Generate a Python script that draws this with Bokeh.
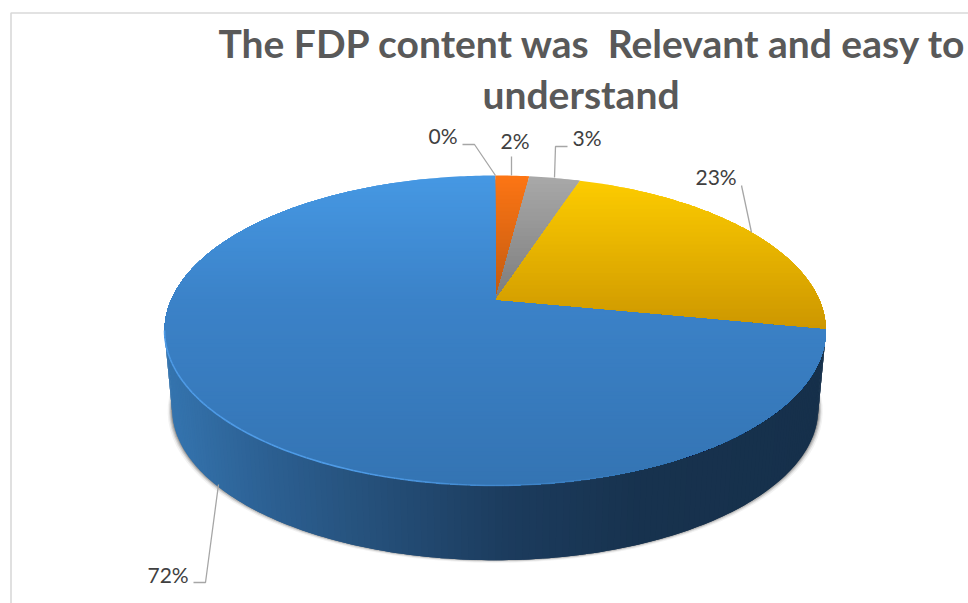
import math
from bokeh.plotting import figure
from bokeh.models import ColumnDataSource, Range1d
from bokeh.core.properties import value
from bokeh.embed import file_html
from bokeh.resources import INLINE

# ---- data ----
title_lines = ["The FDP content was \u00a0Relevant and easy to", "understand"]
values = [0, 2, 3, 23, 72]                 # clockwise from 12 o'clock
value_labels = ["0%", "2%", "3%", "23%", "72%"]

# ---- styles ----
TOP_STOPS = [
    None,
    [(175, "#fd7514"), (300, "#c05a10")],
    [(175, "#a9a9a9"), (300, "#7c7c7c")],
    [(180, "#fdcc00"), (330, "#cc9600")],
    [(175, "#4698e3"), (300, "#3b82c8"), (485, "#3474b3")],
]
WALL_STOPS = [(170, "#3473ad"), (260, "#2c6093"), (340, "#275480"),
              (500, "#1c3c5e"), (640, "#17324e"), (820, "#16304b")]

LABEL_POS = [(428, 135), (500, 140), (572, 137), (695, 176), (147, 574)]
LEADERS = [
    ([462, 474, 495], [144, 144, 175]),
    ([511, 511], [156, 175]),
    ([567, 555, 554], [146, 146, 177]),
    ([741, 751], [185, 232]),
    ([193, 205, 218], [582, 582, 484]),
]

# ---- perspective disc ----
CX, APEX_Y, A, B, K = 494.7, 300.0, 324.4, 149.2, 0.1935
WALL_SCALE, WALL_DROP = 0.977, 79.0


def rim(theta, scale=1.0, drop=0.0):
    u, v = math.sin(theta), math.cos(theta)
    w = 1 + K * v
    return CX + scale * A * u / w, APEX_Y + drop - scale * B * v / w


def hex2rgb(h):
    return tuple(int(h[i:i + 2], 16) for i in (1, 3, 5))


def ramp(stops, t):
    if t <= stops[0][0]:
        return stops[0][1]
    for (a, ca), (b, cb) in zip(stops, stops[1:]):
        if t <= b:
            f = (t - a) / (b - a)
            ra, rb = hex2rgb(ca), hex2rgb(cb)
            return "#%02x%02x%02x" % tuple(round(x + (y - x) * f) for x, y in zip(ra, rb))
    return stops[-1][1]


def clip_below(poly, y0):
    """Keep the part of the polygon with y >= y0 (screen coordinates)."""
    out = []
    for (x1, y1), (x2, y2) in zip(poly, poly[1:] + poly[:1]):
        if y1 >= y0:
            out.append((x1, y1))
        if (y1 >= y0) != (y2 >= y0):
            f = (y0 - y1) / (y2 - y1)
            out.append((x1 + (x2 - x1) * f, y0))
    return out


p = figure(width=968, height=603, output_backend="svg", toolbar_location=None,
           x_range=Range1d(0, 968), y_range=Range1d(603, 0),
           min_border=0, outline_line_color=None)
p.xaxis.visible = False
p.yaxis.visible = False
p.grid.visible = False
p.background_fill_color = "white"
p.border_fill_color = "white"

# chart frame
p.line([968, 10.5, 10.5], [12.5, 12.5, 603], line_color="#d9d9d9", line_width=1.6)

# soft shadow beneath the wall
steps = [math.radians(d) for d in range(0, 361, 3)]
for d, alpha in [(4.5, 0.07), (3.2, 0.13), (2.2, 0.2), (1.2, 0.3)]:
    sx, sy = [], []
    for t in steps:
        x, y = rim(t, WALL_SCALE, WALL_DROP)
        sx.append(CX + (x - CX) * (1 + d / 324))
        sy.append(y + d * 0.8 - 1)
    p.patch(sx, sy, fill_color="#404040", fill_alpha=alpha, line_color=None)

# slice angles from the values
total = sum(values)
edges = [0.0]
for v in values:
    edges.append(edges[-1] + 2 * math.pi * v / total)

# wall of the large front slice
wall_start = math.acos(-K)              # right silhouette
wall_end = 2 * math.pi - wall_start     # left silhouette
n = 160
wall_x, wall_y, wall_c = [], [], []
angles = [wall_end - (wall_end - wall_start) * i / n for i in range(n + 1)]
for a0, a1 in zip(angles, angles[2:] + [angles[-1]]):
    arc = [a0, (a0 + a1) / 2, a1]
    top = [rim(t) for t in arc]
    bot = [rim(t, WALL_SCALE, WALL_DROP) for t in reversed(arc)]
    poly = top + bot
    wall_x.append([q[0] for q in poly])
    wall_y.append([q[1] for q in poly])
    wall_c.append(ramp(WALL_STOPS, rim(a0)[0]))
p.patches(xs="x", ys="y", fill_color="c", line_color=None,
          source=ColumnDataSource(dict(x=wall_x, y=wall_y, c=wall_c)))

# top face: each slice painted as downward overlapping bands
for i, v in enumerate(values):
    if v == 0:
        continue
    t0, t1 = edges[i], edges[i + 1]
    m = max(8, int((t1 - t0) * 70))
    poly = [(CX, APEX_Y)] + [rim(t0 + (t1 - t0) * j / m) for j in range(m + 1)]
    ymin, ymax = min(q[1] for q in poly), max(q[1] for q in poly)
    xs, ys, cs = [], [], []
    y = ymin
    while y < ymax:
        part = clip_below(poly, y)
        if len(part) >= 3:
            xs.append([q[0] for q in part])
            ys.append([q[1] for q in part])
            cs.append(ramp(TOP_STOPS[i], y + 2))
        y += 4
    p.patches(xs="x", ys="y", fill_color="c", line_color=None,
              source=ColumnDataSource(dict(x=xs, y=ys, c=cs)))

# bevel highlight along the front rim (strong on the left, gone on the right)
seg_x, seg_y, seg_c, seg_a = [], [], [], []
h_angles = [wall_end - (wall_end - wall_start) * i / 120 for i in range(121)]
for a0, a1 in zip(h_angles, h_angles[1:]):
    q0, q1 = rim(a0), rim(a1)
    seg_x.append([q0[0], q1[0]])
    seg_y.append([q0[1], q1[1]])
    seg_c.append("#4f9be6")
    seg_a.append(max(0.0, min(1.0, (650 - q0[0]) / 300)))
p.multi_line(xs="x", ys="y", line_color="c", line_alpha="a", line_width=1.6,
             source=ColumnDataSource(dict(x=seg_x, y=seg_y, c=seg_c, a=seg_a)))

# leader lines
for lx, ly in LEADERS:
    p.line(lx, ly, line_color="#a6a6a6", line_width=1.3)

# value labels
p.text(x=[q[0] for q in LABEL_POS], y=[q[1] for q in LABEL_POS], text=value_labels,
       text_font=value("Lato"), text_font_size="21px", text_color="#404040",
       text_align="left", text_baseline="alphabetic")

# title
p.text(x=[218, 482], y=[42, 93], text=title_lines,
       text_font=value("Lato"), text_font_size="39px", text_font_style="bold",
       text_color="#595959", text_align="left", text_baseline="alphabetic")

open("out.html", "w").write(file_html(p, INLINE))
